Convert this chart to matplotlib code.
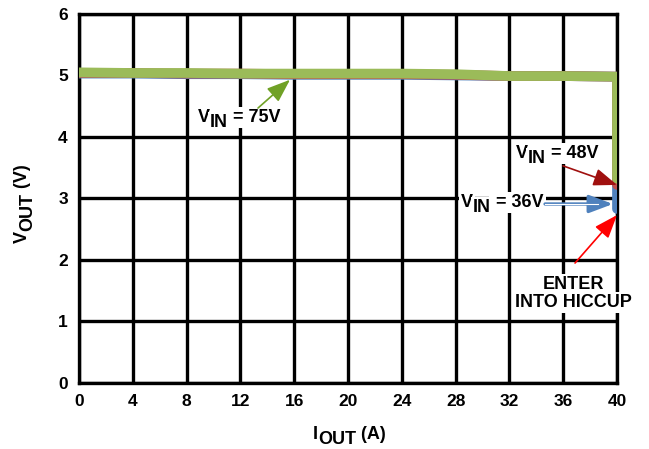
import numpy as np
import matplotlib
matplotlib.use('Agg')
import matplotlib.pyplot as plt

plt.rcParams['font.family'] = ['Liberation Sans', 'DejaVu Sans']
plt.rcParams['font.weight'] = 'bold'

# Output current (A) and output voltage (V) for each input voltage
iout_36 = [0, 4, 8, 12, 16, 20, 24, 28, 32, 36, 40, 40]
vout_36 = [5.03, 5.03, 5.02, 5.02, 5.01, 5.01, 5.01, 5.0, 4.99, 4.99, 4.98, 2.83]
iout_48 = [0, 4, 8, 12, 16, 20, 24, 28, 32, 36, 40, 40]
vout_48 = [5.04, 5.04, 5.03, 5.03, 5.02, 5.02, 5.02, 5.01, 4.99, 4.99, 4.98, 3.22]
iout_75 = [0, 4, 8, 12, 16, 20, 24, 28, 32, 36, 40, 40]
vout_75 = [5.05, 5.04, 5.04, 5.03, 5.03, 5.03, 5.03, 5.02, 4.99, 4.99, 4.98, 3.32]

xticks = list(range(0, 41, 4))
yticks = list(range(0, 7))

blue = '#4F81BD'
red = '#C0504D'
green = '#9BBB59'

dpi = 100
fig = plt.figure(figsize=(649 / dpi, 449 / dpi), dpi=dpi)
ax = fig.add_axes([0.1217, 0.147, 0.829, 0.822])

for xs, ys, c, z in [(iout_36, vout_36, blue, 3), (iout_48, vout_48, red, 4),
                     (iout_75, vout_75, green, 5)]:
    ax.plot(xs, ys, c=c, lw=7, solid_capstyle='round', solid_joinstyle='round', zorder=z)

ax.set_xlim(0, 40)
ax.set_ylim(0, 6)
ax.set_xticks(xticks)
ax.set_yticks(yticks)
ax.grid(True, color='black', lw=2.4)
ax.set_axisbelow(True)
for s in ax.spines.values():
    s.set_linewidth(2.4)
ax.tick_params(length=0, labelsize=12.5, pad=8)
for lab in ax.get_xticklabels() + ax.get_yticklabels():
    lab.set_fontweight('bold')

box = dict(facecolor='white', edgecolor='none', pad=1.5)


def sub_label(x, y, main, sub, rest, coords, size=13, rot=0, bbox=None, drop=3.8):
    """Text with a full size, lowered subscript: main_sub rest."""
    kw = dict(fontsize=size, fontweight='bold', ha='left', va='baseline',
              rotation=rot, rotation_mode='anchor', bbox=bbox, zorder=7,
              annotation_clip=False)
    t1 = ax.annotate(main, xy=(x, y), xycoords=coords, **kw)
    if rot == 0:
        t2 = ax.annotate(sub, xy=(1, y), xycoords=(t1, coords),
                         xytext=(0, -drop), textcoords='offset points', **kw)
        ax.annotate(rest, xy=(1, y), xycoords=(t2, coords), **kw)
    else:
        t2 = ax.annotate(sub, xy=(x, 1), xycoords=(coords, t1),
                         xytext=(drop, 0), textcoords='offset points', **kw)
        ax.annotate(rest, xy=(x, 1), xycoords=(coords, t2), **kw)


# axis labels
sub_label(313, 10, 'I', 'OUT', ' (A)', 'figure pixels', size=13)
sub_label(27, 206, 'V', 'OUT', ' (V)', 'figure pixels', size=13, rot=90)

# input voltage labels
sub_label(8.85, 4.24, 'V', 'IN', ' = 75V', 'data', bbox=box)
sub_label(32.49, 3.66, 'V', 'IN', ' = 48V', 'data', bbox=box)
sub_label(28.40, 2.86, 'V', 'IN', ' = 36V', 'data', bbox=box)
ax.text(36.73, 1.53, 'ENTER', fontsize=13, fontweight='bold', ha='center',
        va='baseline', bbox=box, zorder=7)
ax.text(36.73, 1.24, 'INTO HICCUP', fontsize=13, fontweight='bold', ha='center',
        va='baseline', bbox=box, zorder=7)

head = '-|>,head_length=0.8,head_width=0.3'


def arrow(tail, tip, color, lw=1.2):
    ax.annotate('', xy=tip, xytext=tail,
                arrowprops=dict(arrowstyle=head, color=color, lw=lw,
                                mutation_scale=18, shrinkA=0, shrinkB=0),
                zorder=8)


arrow((13.31, 4.47), (15.69, 4.93), '#70A126')
arrow((35.99, 3.53), (40.0, 3.22), '#A0100F')
arrow((34.65, 2.91), (39.7, 2.91), blue, lw=2.4)
ax.plot([34.65, 38.6], [2.91, 2.91], c='white', lw=0.8, zorder=9)
arrow((36.88, 1.95), (40.0, 2.73), '#FF0000')

plt.savefig('out.png', dpi=dpi)
